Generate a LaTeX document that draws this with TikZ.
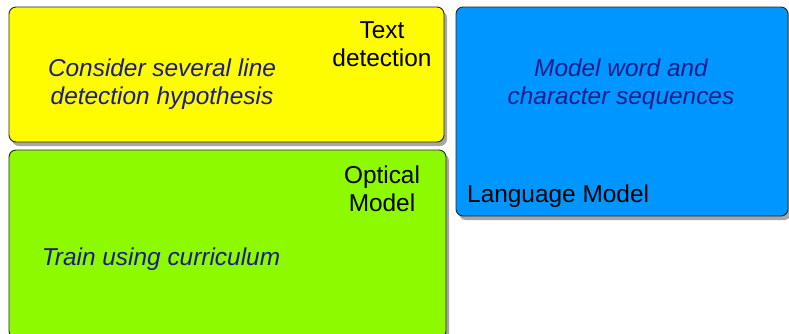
\documentclass[tikz,border=0pt]{standalone}
\usepackage{fontspec}
\setmainfont{Liberation Sans}
\usetikzlibrary{shadows}
\definecolor{lemon}{RGB}{255,251,0}
\definecolor{lime}{RGB}{142,250,0}
\definecolor{aqua}{RGB}{0,150,255}
\definecolor{navytext}{RGB}{28,28,140}
\tikzset{
  panel/.style={draw=black!85, line width=0.9bp, rounded corners=7bp,
    drop shadow={shadow xshift=3bp, shadow yshift=-4bp, fill=black, opacity=0.35}},
  note/.style={font=\fontsize{24.5}{28.5}\selectfont\itshape, text=navytext, align=center, inner sep=0pt},
  label/.style={font=\fontsize{24.5}{28.5}\selectfont, text=black, align=center, inner sep=0pt}
}
\begin{document}
\begin{tikzpicture}[x=1bp,y=-1bp]
\useasboundingbox (0,0) rectangle (789,333);
\begin{scope}
\clip (0,0) rectangle (789,333);
\path[panel, fill=lemon] (9,7) rectangle (444,142);
\path[panel, fill=lime] (9,150) rectangle (446,338);
\path[panel, fill=aqua] (456,7) rectangle (788,216);
\end{scope}
\node[note] (n1) at (162,84) {Consider several line\\detection hypothesis};
\node[label] (l1) at (382,44) {Text\\detection};
\node[label] (l2) at (382,189) {Optical\\Model};
\node[note] (n2) at (161,259) {Train using curriculum};
\node[note] (n3) at (621,84) {Model word and\\character sequences};
\node[label, anchor=west] (l3) at (467,196) {Language Model};
\end{tikzpicture}
\end{document}
